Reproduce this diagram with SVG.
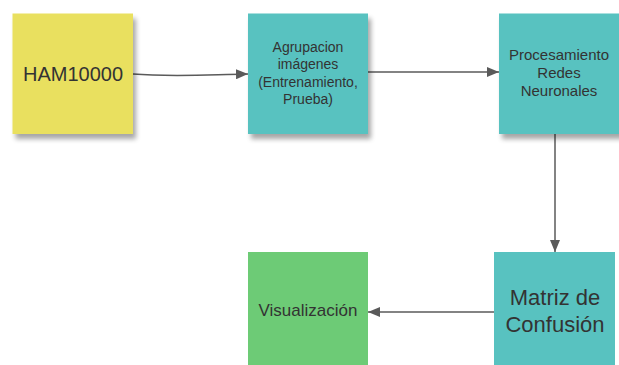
<svg xmlns="http://www.w3.org/2000/svg" width="619" height="365" viewBox="0 0 619 365">
<defs>
<filter id="sh" x="-20%" y="-20%" width="140%" height="150%">
<feGaussianBlur in="SourceAlpha" stdDeviation="2.5"/>
<feOffset dx="3" dy="5" result="b"/>
<feComponentTransfer><feFuncA type="linear" slope="0.35"/></feComponentTransfer>
<feMerge><feMergeNode/><feMergeNode in="SourceGraphic"/></feMerge>
</filter>
<marker id="ah" markerWidth="12" markerHeight="10" refX="12" refY="5" orient="auto" markerUnits="userSpaceOnUse">
<path d="M0,0 L12,5 L0,10 Z" fill="#5a5a5a"/>
</marker>
</defs>
<style>
text{font-family:"Liberation Sans",Arial,sans-serif;fill:#333;text-anchor:middle;dominant-baseline:central}
.c{fill:none;stroke:#5a5a5a;stroke-width:1.5;marker-end:url(#ah)}
</style>
<rect width="619" height="365" fill="#fff"/>
<g id="connectors">
<path class="c" d="M133,74 C170,77 200,75 248,74"/>
<path class="c" d="M368,72 L499,72"/>
<path class="c" d="M555,134 L555,252"/>
<path class="c" d="M494,312 L368,312"/>
</g>
<g id="ham">
<rect x="12.5" y="13.5" width="120.5" height="120.5" fill="#E9E05E" filter="url(#sh)"/>
<text x="73" y="74" font-size="20">HAM10000</text>
</g>
<g id="agrupacion">
<rect x="248" y="13.5" width="120" height="120.5" fill="#58C2C0" filter="url(#sh)"/>
<text x="308" y="47" font-size="14">Agrupacion</text>
<text x="308" y="64" font-size="14">imágenes</text>
<text x="308" y="81.5" font-size="14">(Entrenamiento,</text>
<text x="308" y="98.5" font-size="14">Prueba)</text>
</g>
<g id="procesamiento">
<rect x="499" y="13.5" width="125" height="120.5" fill="#58C2C0" filter="url(#sh)"/>
<text x="559" y="54" font-size="15">Procesamiento</text>
<text x="559" y="72" font-size="15">Redes</text>
<text x="559" y="90" font-size="15">Neuronales</text>
</g>
<g id="matriz">
<rect x="494" y="252" width="121" height="120" fill="#58C2C0"/>
<text x="555" y="297" font-size="22">Matriz de</text>
<text x="555" y="324" font-size="22">Confusión</text>
</g>
<g id="visualizacion">
<rect x="248" y="252" width="120" height="120" fill="#6DCB76"/>
<text x="308" y="310" font-size="17">Visualización</text>
</g>
</svg>
